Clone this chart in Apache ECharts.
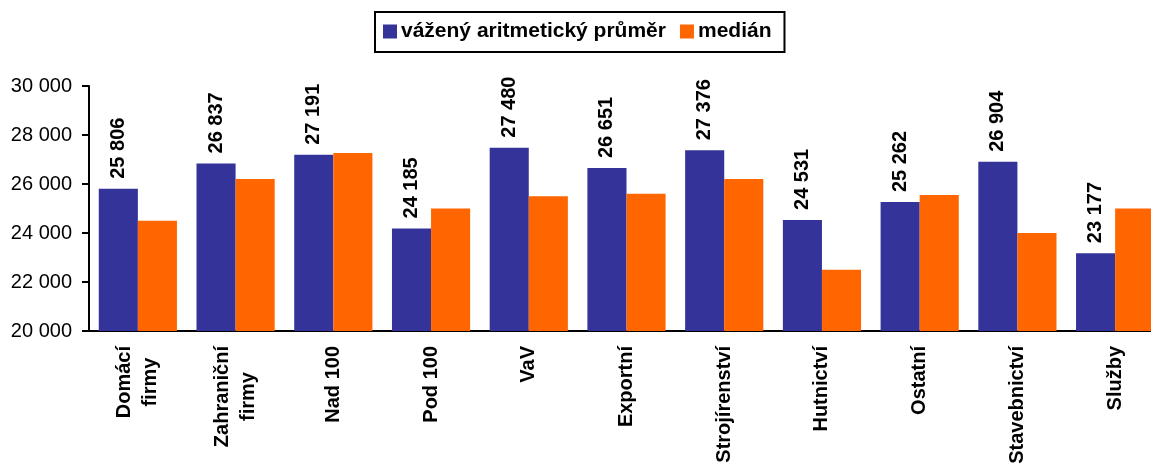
<!DOCTYPE html>
<html>
<head>
<meta charset="utf-8">
<script src="https://cdn.jsdelivr.net/npm/echarts@6/dist/echarts.min.js"></script>
<style>
html,body{margin:0;padding:0;background:#fff;overflow:hidden;width:1151px;height:470px;}
#chart{width:1170px;height:470px;}
</style>
</head>
<body>
<div id="chart"></div>
<script>
var categories = ['Domácí\nfirmy', 'Zahraniční\nfirmy', 'Nad 100', 'Pod 100', 'VaV', 'Exportní', 'Strojírenství', 'Hutnictví', 'Ostatní', 'Stavebnictví', 'Služby'];
var seriesNames = ['vážený aritmetický průměr', 'medián'];
var prumer = [25806, 26837, 27191, 24185, 27480, 26651, 27376, 24531, 25262, 26904, 23177];
var median = [24500, 26200, 27265, 25000, 25500, 25600, 26200, 22500, 25550, 24000, 25000];
var yTicks = [20000, 22000, 24000, 26000, 28000, 30000];

var FONT = '"Liberation Sans", Arial, sans-serif';
function fmt(v) {
  return String(v).replace(/\B(?=(\d{3})+(?!\d))/g, ' ');
}

var chart = echarts.init(document.getElementById('chart'), null, {renderer: 'canvas'});
chart.setOption({
  animation: false,
  backgroundColor: '#ffffff',
  legend: {
    data: seriesNames,
    left: 375,
    top: 12,
    icon: 'rect',
    itemWidth: 14,
    itemHeight: 14,
    itemGap: 14,
    padding: [9, 13, 10, 8],
    borderColor: '#000',
    borderWidth: 2,
    textStyle: {fontFamily: FONT, fontSize: 21, fontWeight: 'bold', color: '#000', padding: [0, 0, 0, -1]}
  },
  grid: {left: 89, top: 86, bottom: 139, width: 1075, containLabel: false},
  xAxis: {
    type: 'category',
    data: categories,
    axisLine: {lineStyle: {color: '#000', width: 2}},
    axisTick: {lineStyle: {color: '#000', width: 2}, length: 7},
    axisLabel: {
      rotate: 90,
      margin: 15,
      interval: 0,
      color: '#000',
      fontFamily: FONT,
      fontSize: 20,
      fontWeight: 'bold',
      formatter: function (v) {
        return v.split('\n').map(function (s) { return '{c|' + s + '}'; }).join('\n');
      },
      rich: {c: {align: 'center', fontFamily: FONT, fontSize: 20, fontWeight: 'bold', color: '#000', lineHeight: 26}}
    }
  },
  yAxis: {
    type: 'value',
    min: yTicks[0],
    max: yTicks[yTicks.length - 1],
    interval: 2000,
    splitLine: {show: false},
    axisLine: {show: true, lineStyle: {color: '#000', width: 2}},
    axisTick: {show: true, length: 7, lineStyle: {color: '#000', width: 2}},
    axisLabel: {
      margin: 17,
      color: '#000',
      fontFamily: FONT,
      fontSize: 20,
      formatter: function (v) { return fmt(v); }
    }
  },
  series: [
    {
      name: seriesNames[0],
      type: 'bar',
      data: prumer,
      barGap: '0%',
      barCategoryGap: '20%',
      itemStyle: {color: '#333399'},
      label: {
        show: true,
        position: 'top',
        rotate: 90,
        align: 'left',
        verticalAlign: 'middle',
        distance: 10,
        color: '#000',
        fontFamily: FONT,
        fontSize: 20,
        fontWeight: 'bold',
        formatter: function (p) { return fmt(p.value); }
      }
    },
    {
      name: seriesNames[1],
      type: 'bar',
      data: median,
      barGap: '0%',
      barCategoryGap: '20%',
      itemStyle: {color: '#FF6600'}
    }
  ]
});
</script>
</body>
</html>
